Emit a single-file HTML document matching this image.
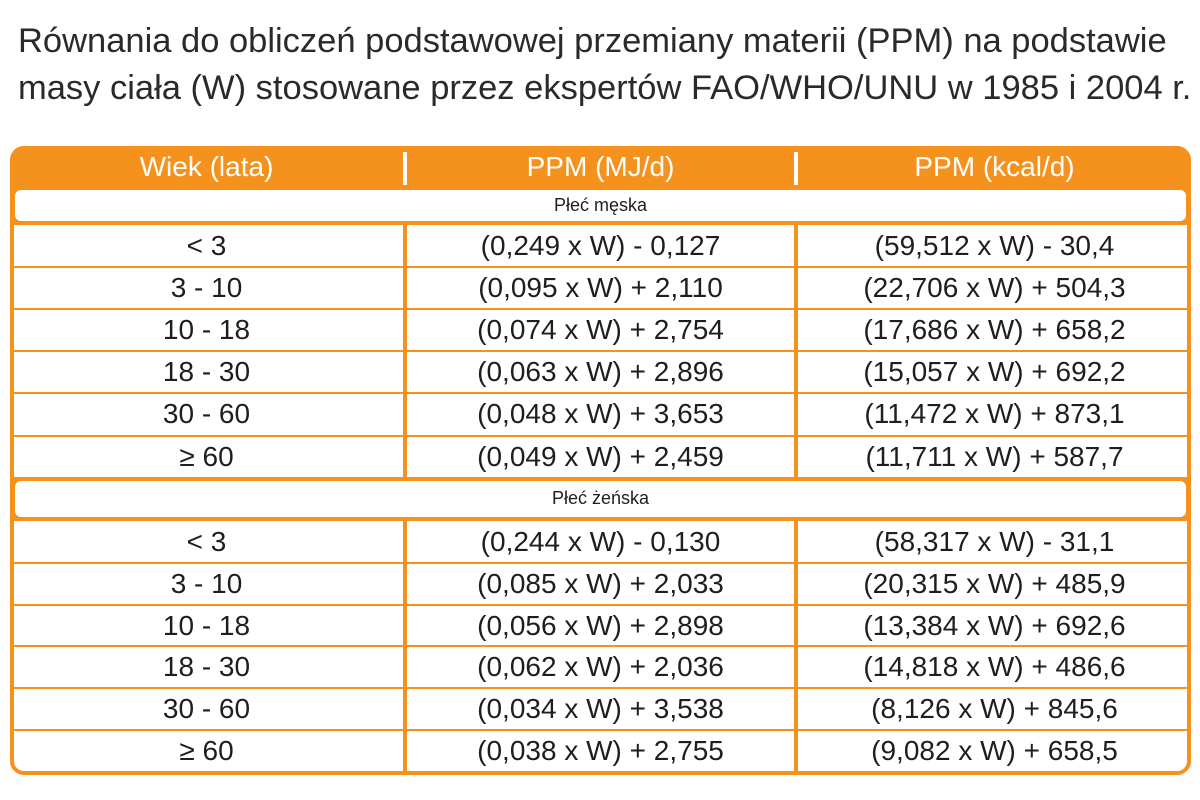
<!DOCTYPE html>
<html><head><meta charset="utf-8"><style>
body{margin:0;width:1200px;height:800px;background:#fff;position:relative;overflow:hidden;font-family:"Liberation Sans",sans-serif}
.t{position:absolute;left:18px;font-size:34.5px;color:#2a2a2a;white-space:nowrap}
.a{position:absolute}
.o{background:#F5921E}
.c{position:absolute;text-align:center;font-size:28px;color:#1e1e1e;white-space:nowrap}
</style></head><body>
<div class="t" style="top:22px">Równania do obliczeń podstawowej przemiany materii (PPM) na podstawie</div>
<div class="t" style="top:69px">masy ciała (W) stosowane przez ekspertów FAO/WHO/UNU w 1985 i 2004 r.</div>

<div class="a" style="left:10px;top:146px;width:1173px;height:621px;border:4px solid #F5921E;border-radius:14px;background:#fff"></div>
<div class="a o" style="left:10px;top:146px;width:1181px;height:79px;border-radius:14px 14px 0 0"></div>
<div class="a" style="left:15px;top:190px;width:1171px;height:31px;background:#fff;border-radius:6px"></div>
<div class="a o" style="left:10px;top:477px;width:1181px;height:44px"></div>
<div class="a" style="left:15px;top:481px;width:1171px;height:36px;background:#fff;border-radius:6px"></div>

<div class="a" style="left:403px;top:152px;width:4px;height:33px;background:#fff"></div>
<div class="a" style="left:794px;top:152px;width:4px;height:33px;background:#fff"></div>
<div class="a o" style="left:403px;top:225px;width:4px;height:252px"></div>
<div class="a o" style="left:794px;top:225px;width:4px;height:252px"></div>
<div class="a o" style="left:403px;top:521px;width:4px;height:250px"></div>
<div class="a o" style="left:794px;top:521px;width:4px;height:250px"></div>

<div id="lines"></div>

<div class="c" style="left:10px;width:393px;top:151px;color:#fff">Wiek (lata)</div>
<div class="c" style="left:407px;width:387px;top:151px;color:#fff">PPM (MJ/d)</div>
<div class="c" style="left:798px;width:393px;top:151px;color:#fff">PPM (kcal/d)</div>
<div class="c" style="left:10px;width:1181px;top:195px;font-size:18px">Płeć męska</div>
<div class="c" style="left:10px;width:1181px;top:488px;font-size:18px">Płeć żeńska</div>

<script>
var rows1=[["< 3","(0,249 x W) - 0,127","(59,512 x W) - 30,4"],["3 - 10","(0,095 x W) + 2,110","(22,706 x W) + 504,3"],["10 - 18","(0,074 x W) + 2,754","(17,686 x W) + 658,2"],["18 - 30","(0,063 x W) + 2,896","(15,057 x W) + 692,2"],["30 - 60","(0,048 x W) + 3,653","(11,472 x W) + 873,1"],["≥ 60","(0,049 x W) + 2,459","(11,711 x W) + 587,7"]];
var rows2=[["< 3","(0,244 x W) - 0,130","(58,317 x W) - 31,1"],["3 - 10","(0,085 x W) + 2,033","(20,315 x W) + 485,9"],["10 - 18","(0,056 x W) + 2,898","(13,384 x W) + 692,6"],["18 - 30","(0,062 x W) + 2,036","(14,818 x W) + 486,6"],["30 - 60","(0,034 x W) + 3,538","(8,126 x W) + 845,6"],["≥ 60","(0,038 x W) + 2,755","(9,082 x W) + 658,5"]];
var h="";
function sec(rows,top,rh){
 rows.forEach(function(r,i){
  var y=top+i*rh;
  if(i>0) h+='<div class="a o" style="left:10px;top:'+(y-1)+'px;width:1181px;height:2px"></div>';
  var ty=y+rh/2-16;
  var xs=[[10,393],[407,387],[798,393]];
  r.forEach(function(t,j){h+='<div class="c" style="left:'+xs[j][0]+'px;width:'+xs[j][1]+'px;top:'+ty+'px">'+t.replace('<','&lt;')+'</div>';});
 });
}
sec(rows1,225,42.1);sec(rows2,521,41.8);
document.getElementById('lines').innerHTML=h;
</script>
</body></html>
